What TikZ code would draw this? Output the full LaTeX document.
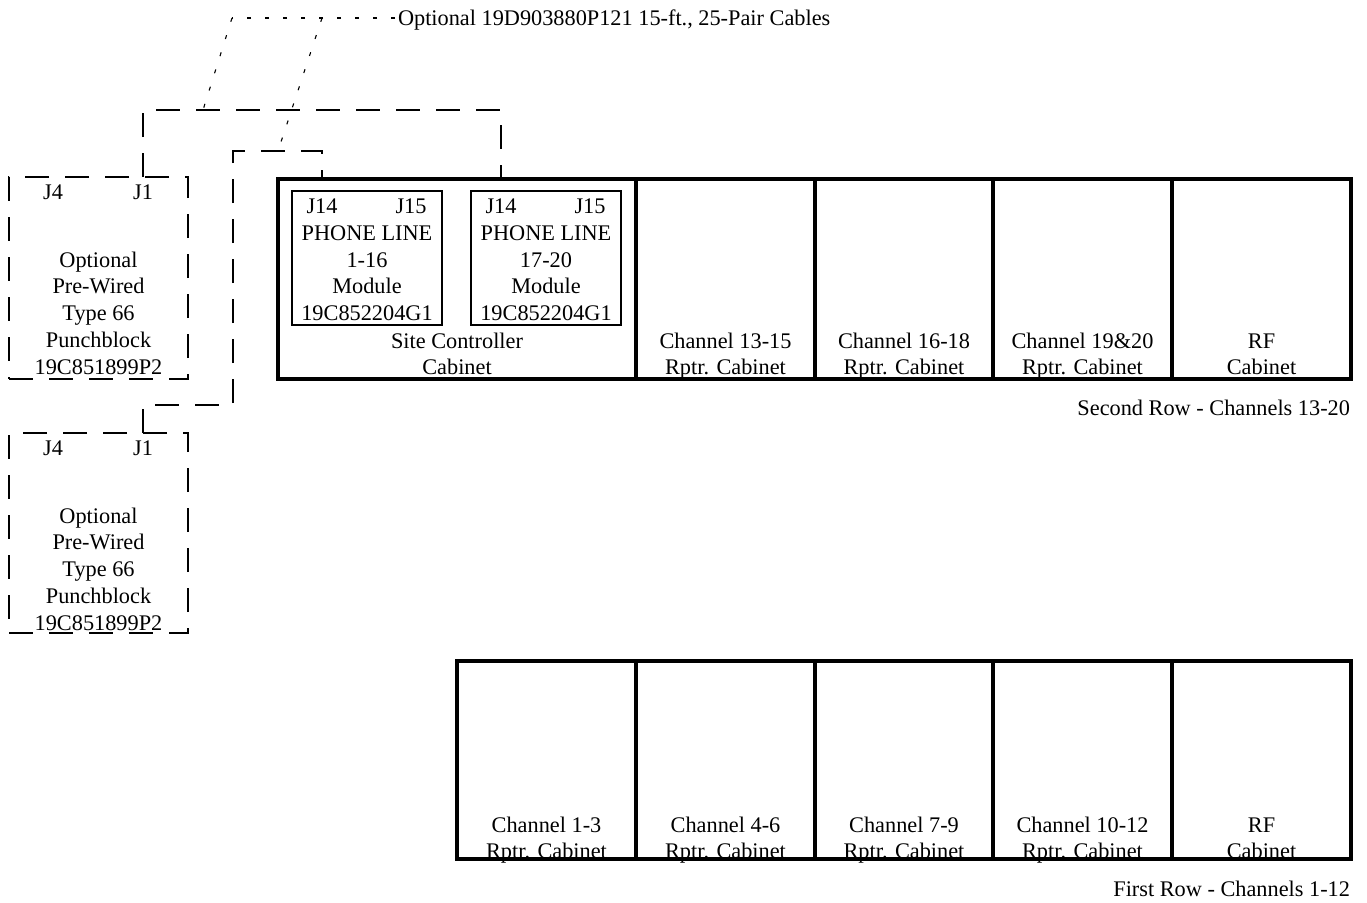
\documentclass[tikz,border=0pt]{standalone}
\usepackage{fontspec}
\setmainfont{Liberation Serif}
\begin{document}
\begin{tikzpicture}[x=1pt,y=-1pt,
  every node/.style={font=\fontsize{22.3}{27}\selectfont, inner sep=0pt, outer sep=0pt},
  cab/.style={draw, line width=4.8pt, inner sep=0pt},
  modbox/.style={draw, line width=2.6pt},
  pblock/.style={draw, line width=1.1pt, dash pattern=on 24pt off 16pt},
  cable/.style={line width=1.1pt, dash pattern=on 24pt off 16pt},
  leader/.style={line width=1.1pt, dash pattern=on 4pt off 14pt},
  txt/.style={anchor=base}
]
\useasboundingbox (0,0) rectangle (1367,902);

% ---------- top row cabinets ----------
\node[cab, minimum width=358pt, minimum height=200pt] (sc) at (457,279) {};
\node[cab, minimum width=179pt, minimum height=200pt] (c1315) at (725.5,279) {};
\node[cab, minimum width=178pt, minimum height=200pt] (c1618) at (904,279) {};
\node[cab, minimum width=179pt, minimum height=200pt] (c1920) at (1082.5,279) {};
\node[cab, minimum width=179pt, minimum height=200pt] (rf2) at (1261.5,279) {};

% modules
\node[modbox, minimum width=150pt, minimum height=134pt] (m1) at (367,258) {};
\node[modbox, minimum width=150pt, minimum height=134pt] (m2) at (546,258) {};

\node[txt] (m1a) at (322,213) {J14};
\node[txt] (m1b) at (411,213) {J15};
\node[txt] (m1c) at (367,240) {PHONE LINE};
\node[txt] (m1d) at (367,267) {1-16};
\node[txt] (m1e) at (367,293) {Module};
\node[txt] (m1f) at (367,320) {19C852204G1};

\node[txt] (m2a) at (501,213) {J14};
\node[txt] (m2b) at (590,213) {J15};
\node[txt] (m2c) at (546,240) {PHONE LINE};
\node[txt] (m2d) at (546,267) {17-20};
\node[txt] (m2e) at (546,293) {Module};
\node[txt] (m2f) at (546,320) {19C852204G1};

\node[txt] (sca) at (457,348) {Site Controller};
\node[txt] (scb) at (457,374) {Cabinet};
\node[txt] (t1a) at (725.5,348) {Channel 13-15};
\node[txt] (t1b) at (725.5,374) {Rptr. Cabinet};
\node[txt] (t2a) at (904,348) {Channel 16-18};
\node[txt] (t2b) at (904,374) {Rptr. Cabinet};
\node[txt] (t3a) at (1082.5,348) {Channel 19\&20};
\node[txt] (t3b) at (1082.5,374) {Rptr. Cabinet};
\node[txt] (t4a) at (1261.5,348) {RF};
\node[txt] (t4b) at (1261.5,374) {Cabinet};

\node[anchor=base east] (row2) at (1350,415) {Second Row - Channels 13-20};

% ---------- bottom row cabinets ----------
\node[cab, minimum width=179pt, minimum height=198pt] (b13) at (546.5,760) {};
\node[cab, minimum width=179pt, minimum height=198pt] (b46) at (725.5,760) {};
\node[cab, minimum width=178pt, minimum height=198pt] (b79) at (904,760) {};
\node[cab, minimum width=179pt, minimum height=198pt] (b1012) at (1082.5,760) {};
\node[cab, minimum width=179pt, minimum height=198pt] (rf1) at (1261.5,760) {};

\node[txt] (u1a) at (546.5,832) {Channel 1-3};
\node[txt] (u1b) at (546.5,858) {Rptr. Cabinet};
\node[txt] (u2a) at (725.5,832) {Channel 4-6};
\node[txt] (u2b) at (725.5,858) {Rptr. Cabinet};
\node[txt] (u3a) at (904,832) {Channel 7-9};
\node[txt] (u3b) at (904,858) {Rptr. Cabinet};
\node[txt] (u4a) at (1082.5,832) {Channel 10-12};
\node[txt] (u4b) at (1082.5,858) {Rptr. Cabinet};
\node[txt] (u5a) at (1261.5,832) {RF};
\node[txt] (u5b) at (1261.5,858) {Cabinet};

\node[anchor=base east] (row1) at (1350,896) {First Row - Channels 1-12};

% ---------- punchblocks ----------
\node[pblock, minimum width=179pt, minimum height=202pt] (pb1) at (98.5,278) {};
\node[txt] (p1j4) at (53,199) {J4};
\node[txt] (p1j1) at (143,199) {J1};
\node[txt] (p1a) at (98.5,267) {Optional};
\node[txt] (p1b) at (98.5,293.5) {Pre-Wired};
\node[txt] (p1c) at (98.5,320) {Type 66};
\node[txt] (p1d) at (98.5,347) {Punchblock};
\node[txt] (p1e) at (98.5,374) {19C851899P2};

\node[pblock, minimum width=179pt, minimum height=200pt] (pb2) at (98.5,533) {};
\node[txt] (p2j4) at (53,455) {J4};
\node[txt] (p2j1) at (143,455) {J1};
\node[txt] (p2a) at (98.5,523) {Optional};
\node[txt] (p2b) at (98.5,549.5) {Pre-Wired};
\node[txt] (p2c) at (98.5,576) {Type 66};
\node[txt] (p2d) at (98.5,603) {Punchblock};
\node[txt] (p2e) at (98.5,630) {19C851899P2};

% ---------- cables ----------
\coordinate (ca) at (143,110);
\draw[cable] (pb1.north -| p1j1) -- (ca) -| (sc.north -| m2a);

\coordinate (cb1) at (143,405);
\coordinate (cb2) at (233,151);
\draw[cable] (pb2.north -| p2j1) -- (cb1) -| (cb2) -| (sc.north -| m1a);

% ---------- leader ----------
\node[anchor=base west] (toplabel) at (398,25) {Optional 19D903880P121 15-ft., 25-Pair Cables};
\coordinate (l1) at (232,18);
\coordinate (l2) at (322,18);
\coordinate (e1) at (203,110);
\coordinate (e2) at (278,151);
\draw[leader] (toplabel.west |- l1) ++(-3,0) -- (l1);
\draw[leader] (l1) -- (e1);
\draw[leader] (l2) -- (e2);
\end{tikzpicture}
\end{document}
